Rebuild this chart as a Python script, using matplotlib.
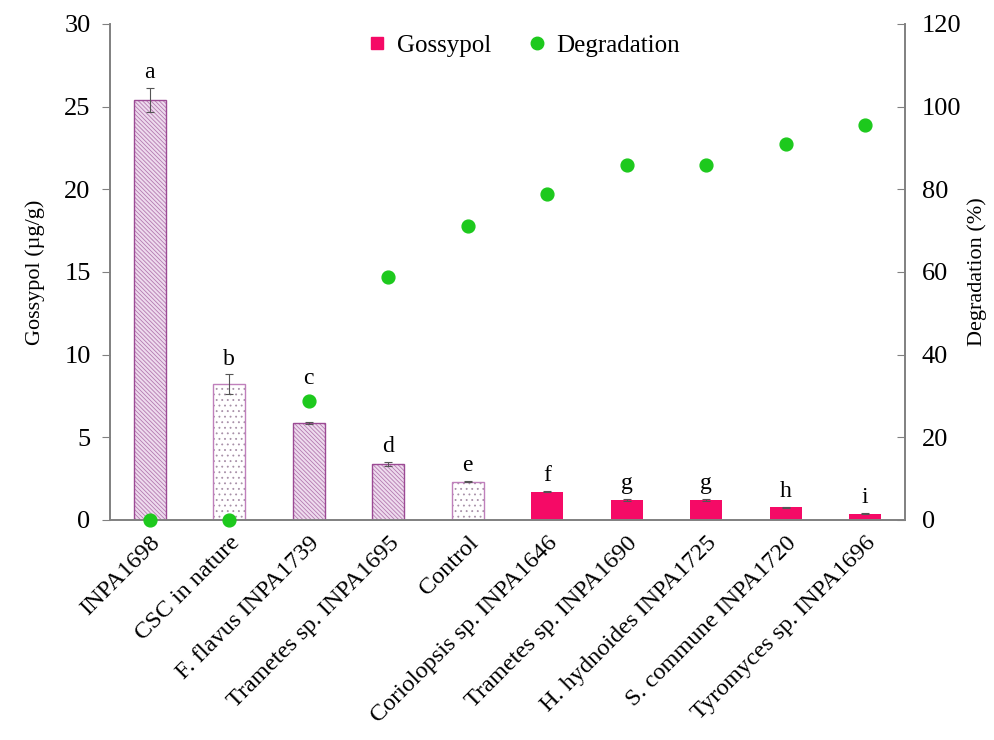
import numpy as np
import matplotlib.pyplot as plt
from matplotlib.lines import Line2D

plt.rcParams['font.family'] = ['Liberation Serif', 'DejaVu Serif']
plt.rcParams['hatch.linewidth'] = 0.6

# Данi
strains = ['INPA1698', 'CSC in nature', 'F. flavus INPA1739', 'Trametes sp. INPA1695',
           'Control', 'Coriolopsis sp. INPA1646', 'Trametes sp. INPA1690',
           'H. hydnoides INPA1725', 'S. commune INPA1720', 'Tyromyces sp. INPA1696']
gossypol = [25.4, 8.2, 5.85, 3.39, 2.32, 1.71, 1.21, 1.21, 0.77, 0.38]
gossypol_err = [0.7, 0.6, 0.06, 0.12, 0.03, 0.03, 0.08, 0.04, 0.03, 0.04]
degradation = [0, 0, 28.9, 58.8, 71.1, 78.9, 85.9, 85.9, 91.0, 95.6]
letters = ['a', 'b', 'c', 'd', 'e', 'f', 'g', 'g', 'h', 'i']
styles = ['hatch', 'dots', 'hatch', 'hatch', 'dots',
          'solid', 'solid', 'solid', 'solid', 'solid']

pink = '#F50A66'
purple = '#9C4A94'
green = '#1DC91D'
grey = '#808080'

fig = plt.figure(figsize=(9.94, 7.40), dpi=100)
ax = fig.add_axes([0.1107, 0.2973, 0.7998, 0.6703])
ax2 = ax.twinx()

# Cпiввiдношення шкал: 120 % на правiй осi = 30 мкг/г на лiвiй
scale = 30 / 120

x = np.arange(len(strains))
for i in x:
    if styles[i] == 'hatch':
        ax.bar(i, gossypol[i], 0.4, facecolor='#EEDBEE', edgecolor='#B47AB0',
               hatch='\\\\\\\\\\\\\\\\', linewidth=0, zorder=2)
        ax.bar(i, gossypol[i], 0.4, facecolor='none', edgecolor=purple,
               linewidth=1.0, zorder=2)
    elif styles[i] == 'dots':
        ax.bar(i, gossypol[i], 0.4, facecolor='white', edgecolor='#A890A8',
               hatch='...', linewidth=0, zorder=2)
        ax.bar(i, gossypol[i], 0.4, facecolor='none', edgecolor='#C080BC',
               linewidth=1.0, zorder=2)
    else:
        ax.bar(i, gossypol[i], 0.4, color=pink, linewidth=0, zorder=2)
    ax.errorbar(i, gossypol[i], yerr=gossypol_err[i], fmt='none', ecolor='#555555',
                elinewidth=0.8, capsize=3, capthick=0.8, zorder=3)
    # лiтеру ставимо над точкою, якщо вона одразу над стовпчиком
    top = gossypol[i] + gossypol_err[i]
    dot = degradation[i] * scale
    if top < dot < top + 2.5:
        top = dot + 0.4
    ax.text(i, top + 0.3, letters[i], ha='center', va='bottom', fontsize=17)

ax2.scatter(x, degradation, s=85, color=green, zorder=4, clip_on=False)

ax.set_xlim(-0.5, len(strains) - 0.5)
ax.set_ylim(0, 30)
ax.set_yticks(np.arange(0, 31, 5))
ax2.set_ylim(0, 120)
ax2.set_yticks(np.arange(0, 121, 20))

ax.set_xticks(x)
ax.set_xticklabels(strains, rotation=45, ha='right', rotation_mode='anchor', fontsize=17.5)
ax.tick_params(axis='x', length=0, pad=9)
ax.tick_params(axis='y', labelsize=19, color=grey, length=6, pad=8)
ax2.tick_params(axis='y', labelsize=19, color=grey, direction='in', length=6, pad=12)

for a in (ax, ax2):
    a.spines['top'].set_visible(False)
    for s in ('left', 'right', 'bottom'):
        a.spines[s].set_color(grey)
        a.spines[s].set_linewidth(1.2)

ax.set_ylabel('Gossypol (µg/g)', fontsize=16, labelpad=14)
ax2.set_ylabel('Degradation (%)', fontsize=16, labelpad=4)

handles = [Line2D([], [], marker='s', color=pink, linestyle='none', markersize=9),
           Line2D([], [], marker='o', color=green, linestyle='none', markersize=9)]
ax.legend(handles, ['Gossypol', 'Degradation'], loc='upper center', ncol=2,
          frameon=False, fontsize=18, handletextpad=-0.2, columnspacing=0.8,
          bbox_to_anchor=(0.511, 1.025))

fig.savefig('out.png', dpi=100)
